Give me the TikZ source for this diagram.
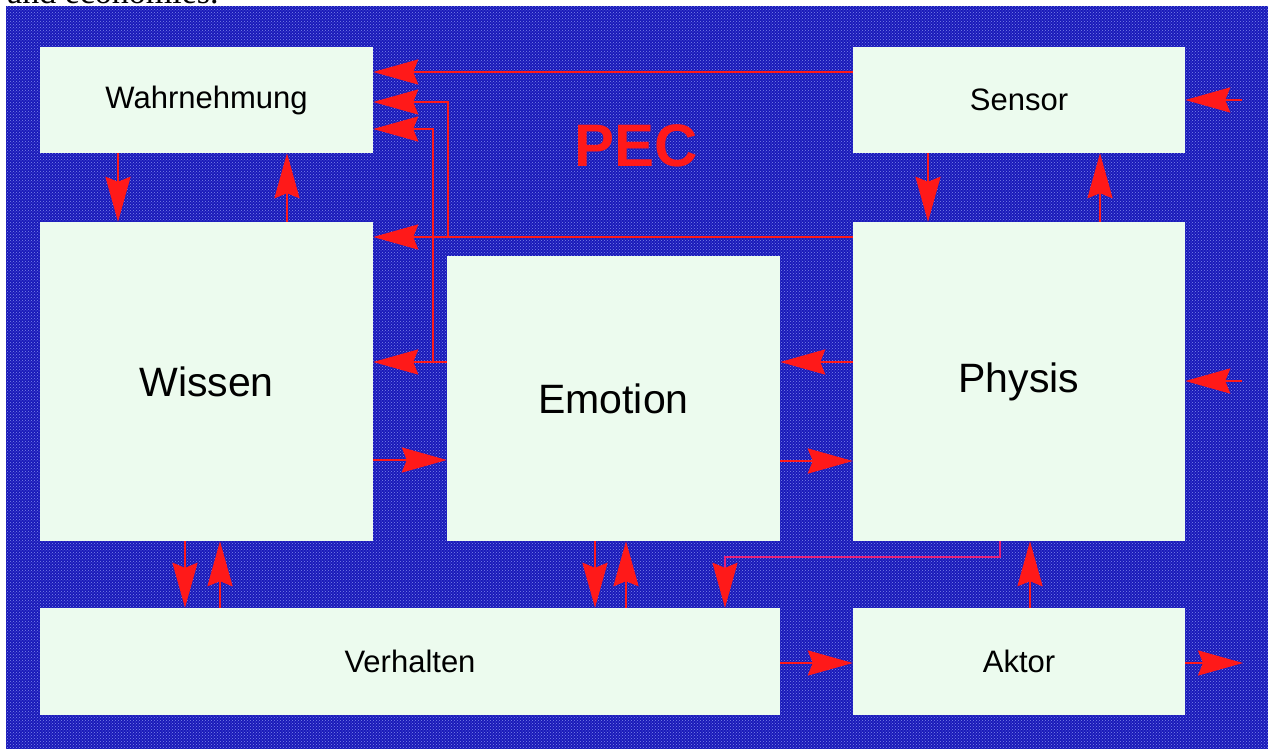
\documentclass[tikz,border=0pt]{standalone}
\usepackage{fontspec}
\setmainfont{Liberation Sans}
\newfontfamily\serifface{Liberation Serif}
\usetikzlibrary{arrows.meta,patterns}
\definecolor{bgdark}{RGB}{25,25,185}
\definecolor{bglight}{RGB}{125,135,235}
\definecolor{boxfill}{RGB}{236,251,238}
\definecolor{arrred}{RGB}{255,25,25}
\definecolor{linkpink}{RGB}{230,30,120}
\tikzset{
  box/.style={fill=boxfill, draw=none, inner sep=0pt, text=black, font=\fontsize{31}{33}\selectfont},
  bigbox/.style={box, font=\fontsize{41}{45}\selectfont},
  arr/.style={draw=arrred, line width=2.5pt, -{Stealth[length=45pt,width=25pt,inset=5pt,color=arrred]}},
  thinarr/.style={arr, draw=linkpink, line width=2pt},
}
\begin{document}
\begin{tikzpicture}[x=1pt,y=-1pt]
\useasboundingbox (0,0) rectangle (1276,749);
\clip (0,0) rectangle (1276,749);
\fill[white] (0,0) rectangle (1276,749);
\node[anchor=base west, inner sep=0pt, font=\serifface\fontsize{34}{36}\selectfont] (cut) at (7,4) {and economies.};
\fill[bgdark] (6,6) rectangle (1268,749);
\fill[pattern=crosshatch dots, pattern color=bglight] (6,6) rectangle (1268,749);

% boxes
\node[box, minimum width=333pt, minimum height=106pt] (wahr) at (206.5,100) {Wahrnehmung};
\node[box, minimum width=332pt, minimum height=106pt] (sens) at (1019,100) {Sensor};
\node[bigbox, minimum width=333pt, minimum height=319pt] (wiss) at (206.5,381.5) {Wissen};
\node[bigbox, minimum width=333pt, minimum height=285pt] (emo) at (613.5,398.5) {Emotion};
\node[bigbox, minimum width=332pt, minimum height=319pt] (phys) at (1019,381.5) {Physis};
\node[box, minimum width=740pt, minimum height=107pt] (verh) at (410,661.5) {Verhalten};
\node[box, minimum width=332pt, minimum height=107pt] (akt) at (1019,661.5) {Aktor};

\node[text=arrred, font=\bfseries\fontsize{60}{64}\selectfont, inner sep=0pt] (pec) at (636,146) {PEC};

% external ends
\coordinate (inS) at (1242,100);
\coordinate (inP) at (1242,381);
\coordinate (outA) at (1243,663);

% connectors
\draw[arr] (sens.west |- 0,72) -- (wahr.east |- 0,72);
\draw[arr] (phys.west |- 0,237) -- (wiss.east |- 0,237);
\draw[arr] (phys.west |- 0,237) -- (448,237) -- (448,102) -- (wahr.east |- 0,102);
\draw[arr] (emo.west |- 0,362) -- (wiss.east |- 0,362);
\draw[arr] (emo.west |- 0,362) -- (433,362) -- (433,129) -- (wahr.east |- 0,129);
\draw[arr] (wiss.east |- 0,460) -- (emo.west |- 0,460);
\draw[arr] (phys.west |- 0,362) -- (emo.east |- 0,362);
\draw[arr] (emo.east |- 0,461) -- (phys.west |- 0,461);

\draw[arr] (wahr.south -| 118,0) -- (wiss.north -| 118,0);
\draw[arr] (wiss.north -| 287,0) -- (wahr.south -| 287,0);
\draw[arr] (sens.south -| 928,0) -- (phys.north -| 928,0);
\draw[arr] (phys.north -| 1100,0) -- (sens.south -| 1100,0);

\draw[arr] (inS) -- (sens.east |- inS);
\draw[arr] (inP) -- (phys.east |- inP);
\draw[arr] (akt.east |- outA) -- (outA);

\draw[arr] (wiss.south -| 185,0) -- (verh.north -| 185,0);
\draw[arr] (verh.north -| 220,0) -- (wiss.south -| 220,0);
\draw[arr] (emo.south -| 595,0) -- (verh.north -| 595,0);
\draw[arr] (verh.north -| 626,0) -- (emo.south -| 626,0);
\draw[thinarr] (phys.south -| 1000,0) -- (1000,557) -- (725,557) -- (verh.north -| 725,0);
\draw[arr] (akt.north -| 1030,0) -- (phys.south -| 1030,0);
\draw[arr] (verh.east |- 0,663) -- (akt.west |- 0,663);
\end{tikzpicture}
\end{document}
